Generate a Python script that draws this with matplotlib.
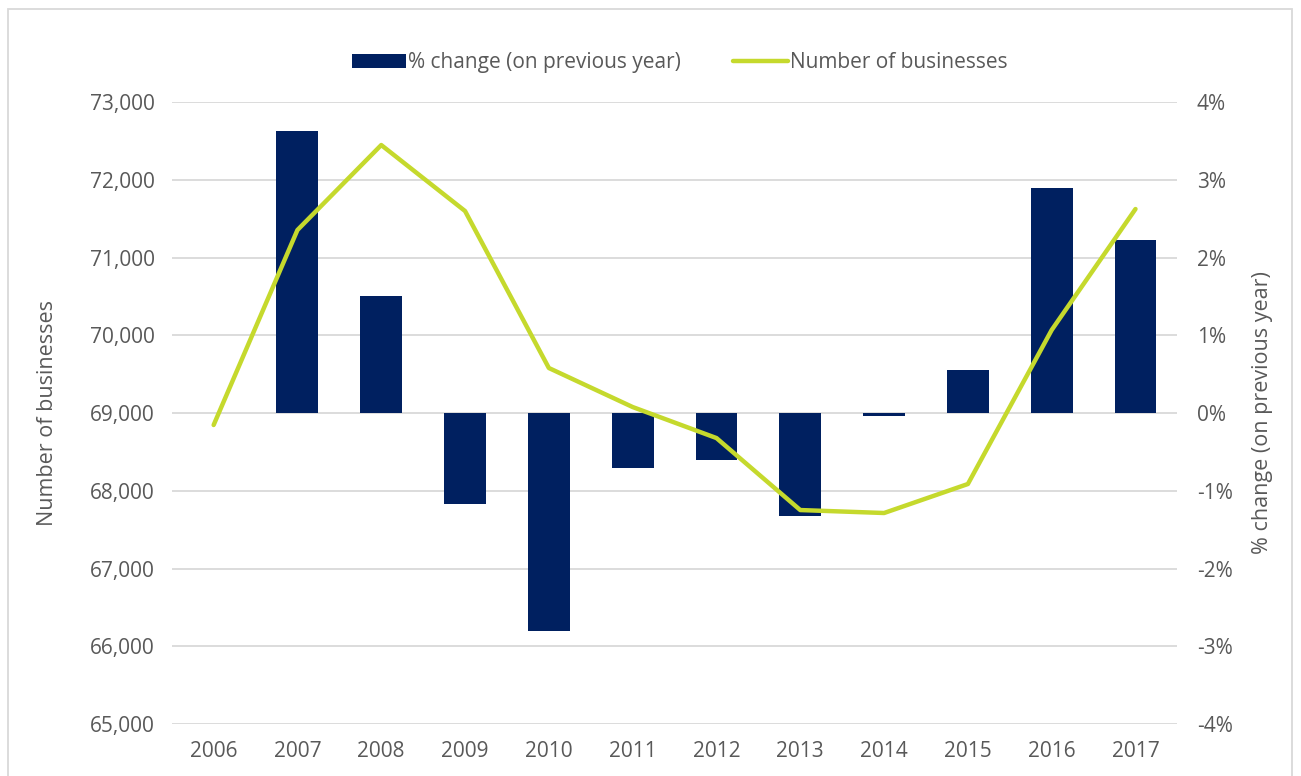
import matplotlib.pyplot as plt
from matplotlib.patches import Rectangle
from matplotlib.ticker import FuncFormatter

years = ["2006", "2007", "2008", "2009", "2010", "2011",
         "2012", "2013", "2014", "2015", "2016", "2017"]
businesses = [68846, 71354, 72447, 71598, 69579, 69077,
              68678, 67752, 67714, 68087, 70068, 71624]
# first year has no change on previous year
pct_change = [None, 3.63, 1.50, -1.17, -2.80, -0.71,
              -0.60, -1.32, -0.04, 0.55, 2.89, 2.23]

navy = "#002060"
lime = "#C5D92D"
grey_txt = "#595959"
grid_col = "#D9D9D9"

plt.rcParams['font.family'] = ['Open Sans', 'DejaVu Sans']
plt.rcParams['font.size'] = 15

fig = plt.figure(figsize=(13.01, 7.76), dpi=100)
ax = fig.add_axes([0.132, 0.067, 0.773, 0.8015])
ax2 = ax.twinx()

x = list(range(len(years)))
bx = [i for i, v in zip(x, pct_change) if v is not None]
bv = [v for v in pct_change if v is not None]
bars = ax2.bar(bx, bv, width=0.5, color=navy, zorder=2,
               label="% change (on previous year)")
line, = ax.plot(x, businesses, color=lime, lw=3.2, solid_capstyle="round",
                label="Number of businesses", zorder=3)

ax.set_zorder(ax2.get_zorder() + 1)
ax.patch.set_visible(False)

ax.set_xlim(-0.5, len(years) - 0.5)
ax.set_ylim(65000, 73000)
ax.set_yticks(range(65000, 73001, 1000))
ax.yaxis.set_major_formatter(FuncFormatter(lambda v, p: f"{int(v):,}"))
ax2.set_ylim(-4, 4)
ax2.set_yticks(range(-4, 5))
ax2.yaxis.set_major_formatter(FuncFormatter(lambda v, p: f"{int(v)}%"))

ax2.grid(axis="y", color=grid_col, lw=1.3, zorder=0)
ax2.set_axisbelow(True)

ax.set_xticks(x)
ax.set_xticklabels(years)

for a in (ax, ax2):
    for s in a.spines.values():
        s.set_visible(False)
    a.tick_params(length=0, colors=grey_txt, labelsize=15)
ax.tick_params(axis="x", pad=12)
ax.tick_params(axis="y", pad=12)
ax2.tick_params(axis="y", pad=14)

ax.set_ylabel("Number of businesses", color=grey_txt, fontsize=15.5, labelpad=23)
ax2.set_ylabel("% change (on previous year)", color=grey_txt, fontsize=15.5, labelpad=14)

fig.legend(handles=[bars, line], loc="center", bbox_to_anchor=(0.5225, 0.919),
           ncol=2, frameon=False, fontsize=15, handlelength=2.6,
           handletextpad=0.1, columnspacing=2.5, labelcolor=grey_txt)

fig.patches.append(Rectangle((8 / 1301, -0.01), 1284 / 1301, 0.999,
                             transform=fig.transFigure, fill=False,
                             edgecolor=grid_col, lw=1.3))

fig.savefig("out.png", dpi=100)
